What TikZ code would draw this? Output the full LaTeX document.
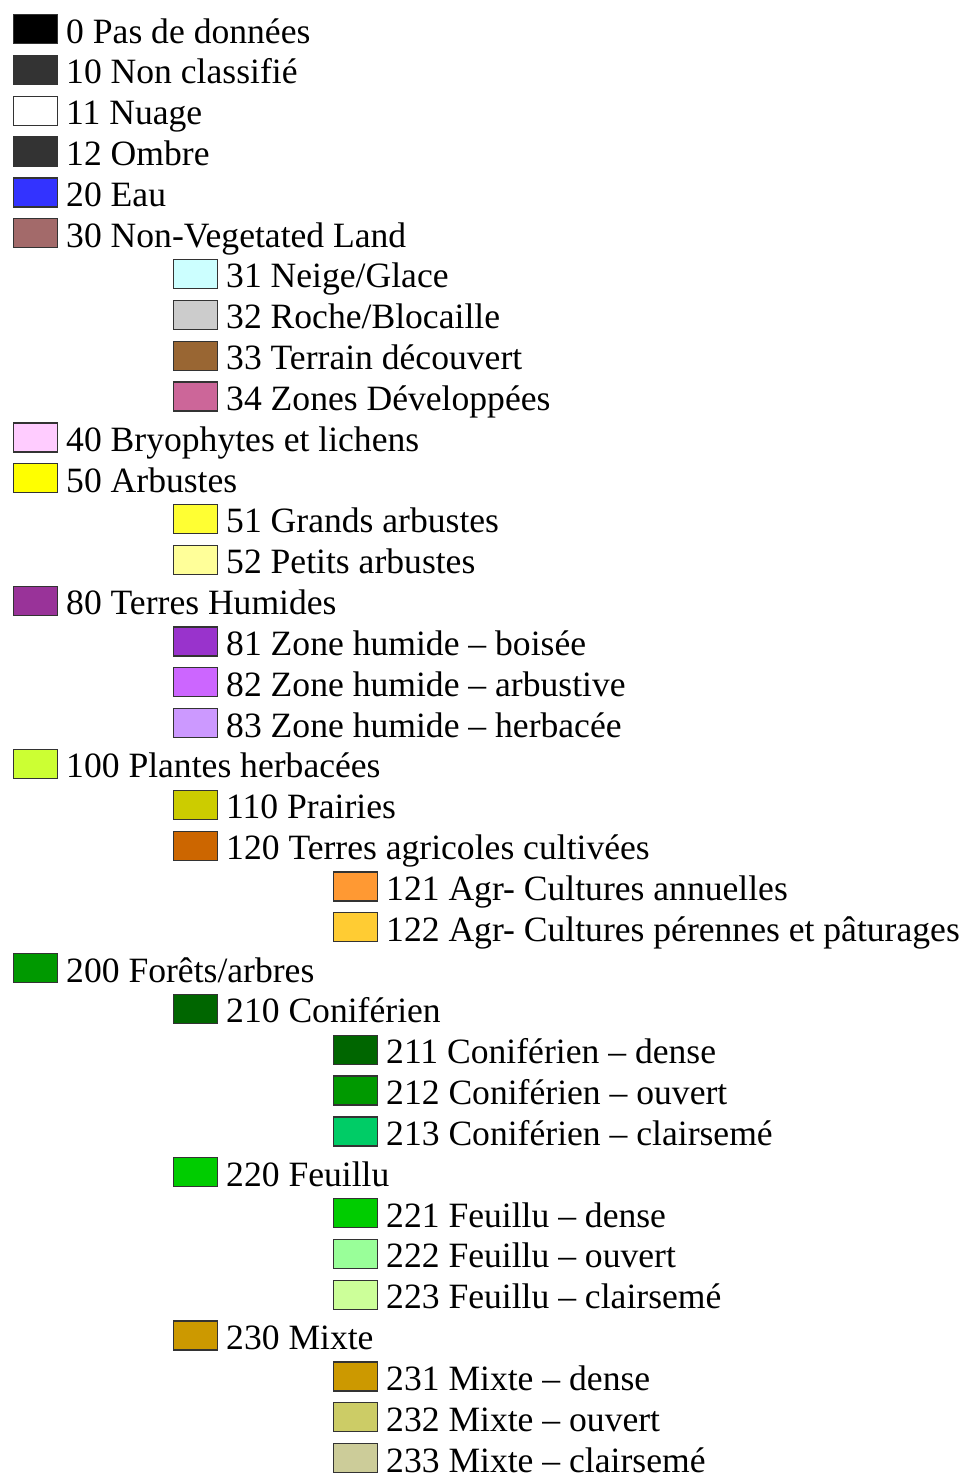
\documentclass[tikz,border=0pt]{standalone}
\usepackage{fontspec}
\setmainfont{Liberation Serif}
\tikzset{
  swatch/.style={draw=black!80, line width=1.3pt, minimum width=44pt, minimum height=29pt, inner sep=0pt, anchor=north west},
  lab/.style={anchor=base west, inner sep=0pt, font=\fontsize{35.6}{40}\selectfont}
}
\newcommand\lrow[5]{%
  \definecolor{col#1}{HTML}{#4}%
  \node[swatch, fill=col#1] (s#1) at ({12.6+160*#2}, {-(13.9+40.83*#3)}) {};
  \node[lab] (t#1) at ({66+160*#2}, {-(43.0+40.83*#3)}) {#5};
}
\begin{document}
\begin{tikzpicture}[x=1pt,y=1pt]
\useasboundingbox (0,0) rectangle (964,-1473);
\lrow{0}{0}{0}{000000}{0 Pas de données}
\lrow{10}{0}{1}{333333}{10 Non classifié}
\lrow{11}{0}{2}{FFFFFF}{11 Nuage}
\lrow{12}{0}{3}{333333}{12 Ombre}
\lrow{20}{0}{4}{3333FF}{20 Eau}
\lrow{30}{0}{5}{A36A6A}{30 Non-Vegetated Land}
\lrow{31}{1}{6}{CCFFFF}{31 Neige/Glace}
\lrow{32}{1}{7}{CCCCCC}{32 Roche/Blocaille}
\lrow{33}{1}{8}{996633}{33 Terrain découvert}
\lrow{34}{1}{9}{CC6699}{34 Zones Développées}
\lrow{40}{0}{10}{FFCCFF}{40 Bryophytes et lichens}
\lrow{50}{0}{11}{FFFF00}{50 Arbustes}
\lrow{51}{1}{12}{FFFF33}{51 Grands arbustes}
\lrow{52}{1}{13}{FFFF99}{52 Petits arbustes}
\lrow{80}{0}{14}{993399}{80 Terres Humides}
\lrow{81}{1}{15}{9933CC}{81 Zone humide – boisée}
\lrow{82}{1}{16}{CC66FF}{82 Zone humide – arbustive}
\lrow{83}{1}{17}{CC99FF}{83 Zone humide – herbacée}
\lrow{100}{0}{18}{CCFF33}{100 Plantes herbacées}
\lrow{110}{1}{19}{CCCC00}{110 Prairies}
\lrow{120}{1}{20}{CC6600}{120 Terres agricoles cultivées}
\lrow{121}{2}{21}{FF9933}{121 Agr- Cultures annuelles}
\lrow{122}{2}{22}{FFCC33}{122 Agr- Cultures pérennes et pâturages}
\lrow{200}{0}{23}{009900}{200 Forêts/arbres}
\lrow{210}{1}{24}{006600}{210 Coniférien}
\lrow{211}{2}{25}{006600}{211 Coniférien – dense}
\lrow{212}{2}{26}{009900}{212 Coniférien – ouvert}
\lrow{213}{2}{27}{00CC66}{213 Coniférien – clairsemé}
\lrow{220}{1}{28}{00CC00}{220 Feuillu}
\lrow{221}{2}{29}{00CC00}{221 Feuillu – dense}
\lrow{222}{2}{30}{99FF99}{222 Feuillu – ouvert}
\lrow{223}{2}{31}{CCFF99}{223 Feuillu – clairsemé}
\lrow{230}{1}{32}{CC9900}{230 Mixte}
\lrow{231}{2}{33}{CC9900}{231 Mixte – dense}
\lrow{232}{2}{34}{CCCC66}{232 Mixte – ouvert}
\lrow{233}{2}{35}{CCCC99}{233 Mixte – clairsemé}
\end{tikzpicture}
\end{document}
